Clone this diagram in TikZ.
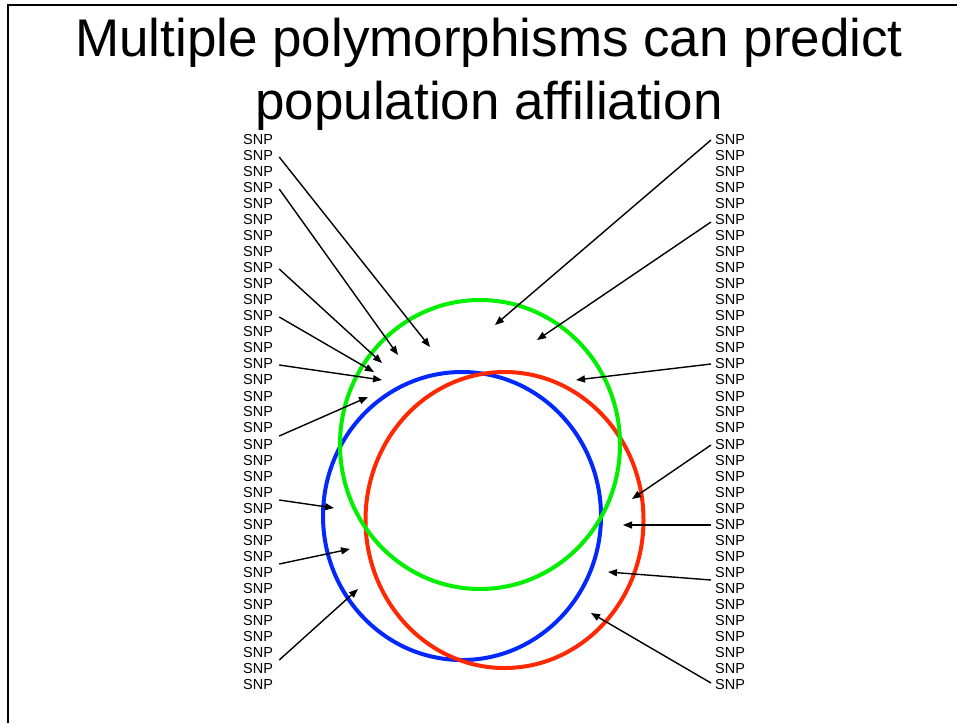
\documentclass[tikz,border=0pt]{standalone}
\usepackage{fontspec}
\setmainfont{Liberation Sans}[Ligatures=NoCommon]
\usetikzlibrary{arrows.meta}
\definecolor{cgreen}{RGB}{0,240,0}
\definecolor{cblue}{RGB}{0,40,255}
\definecolor{cred}{RGB}{255,40,0}
\tikzset{
  snp/.style={inner sep=0pt, font=\fontsize{14.5pt}{14.5pt}\selectfont},
  titletext/.style={inner sep=0pt, anchor=base, font=\fontsize{53pt}{53pt}\selectfont},
  arr/.style={line width=1.4pt, -{Triangle[length=9pt,width=7pt]}},
  ring/.style={line width=4pt},
  frameline/.style={line width=2pt}
}
\begin{document}
\begin{tikzpicture}[x=1pt,y=-1pt]
\useasboundingbox (0,0) rectangle (957,723);
\draw[frameline] (7.7,723) -- (7.7,5.3) -- (957,5.3);
% title
\node[titletext] (t1) at (489,56.7) {Multiple polymorphisms can predict};
\node[titletext] (t2) at (489,119) {population affiliation};
% SNP columns
\foreach \i in {0,...,34} {
  \node[snp, anchor=west] (L\i) at (243,140+16*\i) {SNP};
  \node[snp, anchor=west] (R\i) at (715,140+16*\i) {SNP};
}
% circles
\draw[ring, cblue] (462,516) ellipse [x radius=139, y radius=144];
\draw[ring, cred] (504.5,520) ellipse [x radius=139, y radius=148];
\draw[ring, cgreen] (480,444.5) ellipse [x radius=140, y radius=144.5];
% arrow targets
\coordinate (a1) at (430,347);
\coordinate (a2) at (398,355);
\coordinate (a3) at (382,363);
\coordinate (a4) at (374,372);
\coordinate (a5) at (382,380);
\coordinate (a6) at (368,397);
\coordinate (a7) at (334,508);
\coordinate (a8) at (350,549);
\coordinate (a9) at (358,589);
\coordinate (b1) at (495,325);
\coordinate (b2) at (537,340);
\coordinate (b3) at (576,380);
\coordinate (b4) at (632,499);
\coordinate (b5) at (623,525);
\coordinate (b6) at (608,572);
\coordinate (b7) at (591,613);
% left arrows
\draw[arr] ([xshift=6pt,yshift=-1pt]L1.east) -- (a1);
\draw[arr] ([xshift=6pt,yshift=-1pt]L3.east) -- (a2);
\draw[arr] ([xshift=6pt,yshift=-1pt]L8.east) -- (a3);
\draw[arr] ([xshift=6pt,yshift=-1pt]L11.east) -- (a4);
\draw[arr] ([xshift=6pt,yshift=-1pt]L14.east) -- (a5);
\draw[arr] ([xshift=6pt,yshift=-8pt]L18.east) -- (a6);
\draw[arr] ([xshift=6pt,yshift=-8pt]L22.east) -- (a7);
\draw[arr] ([xshift=6pt,yshift=-8pt]L26.east) -- (a8);
\draw[arr] ([xshift=6pt,yshift=-8pt]L32.east) -- (a9);
% right arrows
\draw[arr] ([xshift=-4pt]R0.west) -- (b1);
\draw[arr] ([xshift=-4pt,yshift=-2pt]R5.west) -- (b2);
\draw[arr] ([xshift=-4pt]R14.west) -- (b3);
\draw[arr] ([xshift=-4pt,yshift=-1pt]R19.west) -- (b4);
\draw[arr] ([xshift=-4pt,yshift=-1pt]R24.west) -- (b5);
\draw[arr] ([xshift=-4pt,yshift=-8pt]R27.west) -- (b6);
\draw[arr] ([xshift=-4pt,yshift=1pt]R34.west) -- (b7);
\end{tikzpicture}
\end{document}
